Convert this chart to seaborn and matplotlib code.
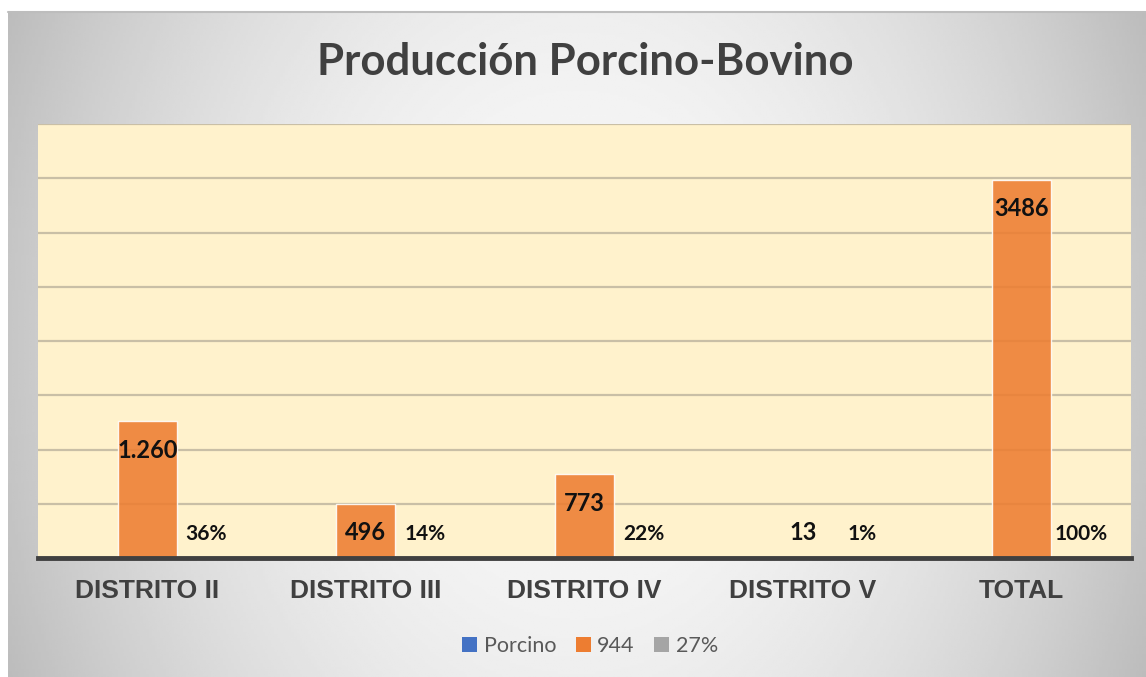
import numpy as np
import pandas as pd
import matplotlib
matplotlib.use("Agg")
import matplotlib.pyplot as plt
import seaborn as sns

# ---- data ----
categories = ["DISTRITO II", "DISTRITO III", "DISTRITO IV", "DISTRITO V", "TOTAL"]
series_names = ["Porcino", "944", "27%"]
porcino = [0, 0, 0, 0, 0]
valores = [1260, 496, 773, 13, 3486]
porcentajes = [0.36, 0.14, 0.22, 0.01, 1.00]
valores_labels = ["1.260", "496", "773", "13", "3486"]
porcentajes_labels = ["36%", "14%", "22%", "1%", "100%"]
yticks = [0, 500, 1000, 1500, 2000, 2500, 3000, 3500, 4000]

df = pd.DataFrame({
    "cat": categories * 3,
    "serie": [series_names[0]] * 5 + [series_names[1]] * 5 + [series_names[2]] * 5,
    "val": porcino + valores + porcentajes,
})

W, H = 1146, 677
sns.set_theme(style="white")
plt.rcParams["font.family"] = ["Lato", "DejaVu Sans"]

fig = plt.figure(figsize=(W / 100, H / 100), dpi=100)
fig.patch.set_facecolor("white")

# background gradient frame
bx0, by0 = 8, 12
bg = fig.add_axes([bx0 / W, 0, (W - bx0) / W, (H - by0) / H], zorder=0)
xx, yy = np.meshgrid(np.linspace(-1, 1, 400), np.linspace(-1, 1, 300))
d2 = xx ** 2 + 0.2 * yy ** 2
c = (248 - 50 * d2) / 255.0
bg.imshow(c, cmap="gray", vmin=0, vmax=1, aspect="auto", extent=[0, 1, 0, 1])
bg.set_axis_off()
bg.plot([0, 1], [1, 1], color="#BDBDBD", lw=1.5, transform=bg.transAxes, clip_on=False)

# main axes
L, R, T, B = 38, 1131, 124, 558
ax = fig.add_axes([L / W, 1 - B / H, (R - L) / W, (B - T) / H], zorder=1)
ax.set_facecolor("#FFF2CC")

palette = {"Porcino": "#4472C4", "944": "#ED7D31", "27%": "#A5A5A5"}
sns.barplot(data=df, x="cat", y="val", hue="serie", hue_order=series_names,
            order=categories, palette=palette, width=0.81, ax=ax,
            saturation=1, alpha=0.88, legend=False, zorder=2)

ax.set_ylim(0, 4000)
ax.set_xlim(-0.5, len(categories) - 0.5)
ax.set_yticks(yticks)
ax.yaxis.grid(True, color="#C9BFA6", lw=1.6, zorder=1)
ax.set_axisbelow(True)
ax.tick_params(axis="y", left=False, labelleft=False)
ax.tick_params(axis="x", bottom=False, pad=9)
for s in ["top", "left", "right"]:
    ax.spines[s].set_visible(False)
ax.spines["bottom"].set_color("#404040")
ax.spines["bottom"].set_linewidth(3.5)
ax.spines["bottom"].set_zorder(5)
ax.set_xlabel("")
ax.set_ylabel("")
for lab in ax.get_xticklabels():
    lab.set_fontfamily("Liberation Sans")
    lab.set_fontweight("bold")
    lab.set_fontsize(19)
    lab.set_color("#404040")

# bar labels
units_per_px = 4000 / (B - T)
bars = ax.patches
n = len(categories)
orange_bars = bars[n:2 * n]
gray_bars = bars[2 * n:3 * n]
for b, v, lab in zip(orange_bars, valores, valores_labels):
    xc = b.get_x() + b.get_width() / 2
    y = max(v - 29 * units_per_px, 26 * units_per_px)
    ax.text(xc, y, lab, ha="center", va="center", fontsize=17,
            fontweight="bold", color="#111111", zorder=6)
for b, lab in zip(gray_bars, porcentajes_labels):
    xc = b.get_x() + b.get_width() / 2
    ax.text(xc, 24 * units_per_px, lab, ha="center", va="center", fontsize=15,
            fontweight="bold", color="#111111", zorder=6)

# title
fig.text(585 / W, 1 - 62 / H, "Producción Porcino-Bovino", ha="center", va="center",
         fontsize=31.5, fontweight="bold", color="#404040")

# legend
from matplotlib.patches import Patch
handles = [Patch(facecolor=palette[s], edgecolor="none") for s in series_names]
leg = fig.legend(handles, series_names, loc="center", bbox_to_anchor=(590 / W, 1 - 646 / H),
                 ncol=3, frameon=False, fontsize=15.5, handlelength=0.7, handleheight=0.7,
                 handletextpad=0.3, columnspacing=0.9)
for t in leg.get_texts():
    t.set_color("#595959")

fig.savefig("out.png", dpi=100, facecolor=fig.get_facecolor())
